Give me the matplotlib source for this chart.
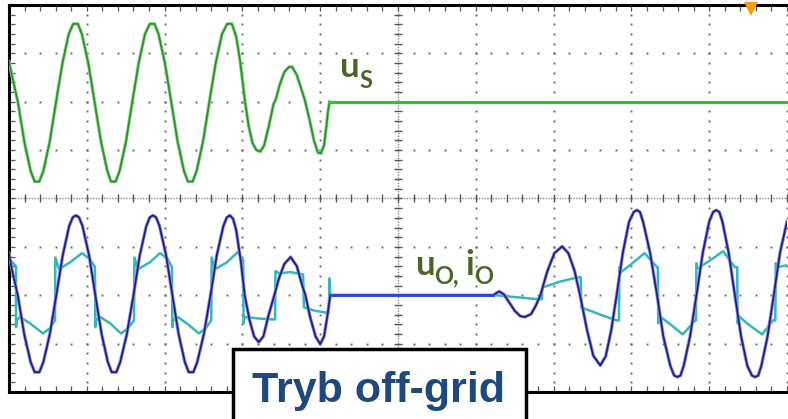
import numpy as np
import matplotlib
matplotlib.use("Agg")
import matplotlib.pyplot as plt
from matplotlib.patches import Rectangle

# ---------------- data (time in divisions, amplitude in divisions) ----------------
us_points = [
    (0.00, 0.83), (0.03, 0.60), (0.114, 0.00), (0.196, -0.82), (0.278, -1.43), (0.33, -1.65),
    (0.39, -1.65), (0.442, -1.43), (0.524, -0.82), (0.605, 0.00), (0.687, 0.80), (0.768, 1.40),
    (0.825, 1.61), (0.885, 1.61), (0.937, 1.40), (1.019, 0.80), (1.10, 0.00), (1.182, -0.82),
    (1.264, -1.43), (1.31, -1.65), (1.37, -1.65), (1.422, -1.43), (1.504, -0.82), (1.585, 0.00),
    (1.667, 0.80), (1.748, 1.40), (1.81, 1.61), (1.87, 1.61), (1.922, 1.40), (2.004, 0.80),
    (2.085, 0.00), (2.167, -0.82), (2.249, -1.43), (2.30, -1.65), (2.36, -1.65), (2.412, -1.43),
    (2.494, -0.82), (2.575, 0.00), (2.657, 0.80), (2.738, 1.40), (2.805, 1.61), (2.865, 1.61),
    (2.92, 1.35), (2.97, 0.85), (3.03, 0.05), (3.08, -0.50), (3.13, -0.85), (3.18, -1.00),
    (3.23, -1.03), (3.28, -0.90), (3.34, -0.50), (3.40, -0.05), (3.43, 0.05), (3.48, 0.35),
    (3.54, 0.62), (3.60, 0.72), (3.64, 0.72), (3.70, 0.55), (3.76, 0.25), (3.80, 0.05),
    (3.86, -0.35), (3.92, -0.80), (3.97, -1.05), (4.01, -1.07), (4.05, -0.90), (4.08, -0.50),
    (4.10, -0.20), (4.12, 0.00), (10.0, 0.00),
]

uo_points = [
    (0.00, 0.87), (0.035, 0.55), (0.113, 0.00), (0.195, -0.80), (0.278, -1.38), (0.33, -1.59),
    (0.39, -1.59), (0.442, -1.38), (0.525, -0.80), (0.608, 0.00), (0.69, 0.82), (0.773, 1.43),
    (0.82, 1.61), (0.86, 1.65), (0.90, 1.61), (0.945, 1.43), (1.03, 0.82), (1.11, 0.00),
    (1.19, -0.80), (1.27, -1.38), (1.32, -1.59), (1.38, -1.59), (1.43, -1.38), (1.515, -0.80),
    (1.60, 0.00), (1.68, 0.82), (1.765, 1.43), (1.81, 1.61), (1.85, 1.65), (1.89, 1.61),
    (1.935, 1.43), (2.02, 0.82), (2.10, 0.00), (2.18, -0.80), (2.26, -1.38), (2.31, -1.59),
    (2.37, -1.59), (2.42, -1.38), (2.505, -0.80), (2.59, 0.00), (2.67, 0.82), (2.755, 1.43),
    (2.80, 1.61), (2.84, 1.65), (2.88, 1.58), (2.92, 1.35), (2.98, 0.70), (3.03, 0.00),
    (3.09, -0.50), (3.15, -0.85), (3.21, -0.97), (3.27, -0.85), (3.33, -0.45), (3.41, 0.00),
    (3.47, 0.35), (3.54, 0.65), (3.62, 0.79), (3.70, 0.60), (3.76, 0.25), (3.81, 0.00),
    (3.87, -0.45), (3.94, -0.85), (4.00, -1.01), (4.05, -0.85), (4.09, -0.45), (4.12, -0.10),
    (4.13, 0.00), (6.22, 0.00), (6.30, 0.08), (6.36, 0.02), (6.43, -0.15), (6.50, -0.32),
    (6.57, -0.43), (6.63, -0.45), (6.71, -0.39), (6.77, -0.22), (6.83, 0.00), (6.92, 0.50),
    (7.01, 0.87), (7.11, 1.01), (7.19, 0.87), (7.27, 0.50), (7.34, 0.00), (7.43, -0.72),
    (7.51, -1.25), (7.60, -1.45), (7.67, -1.26), (7.74, -0.73), (7.81, 0.00), (7.89, 0.88),
    (7.97, 1.52), (8.03, 1.72), (8.07, 1.76), (8.11, 1.72), (8.15, 1.52), (8.24, 0.88),
    (8.33, 0.00), (8.41, -0.85), (8.50, -1.46), (8.55, -1.66), (8.59, -1.69), (8.63, -1.66),
    (8.672, -1.46), (8.754, -0.85), (8.836, 0.00), (8.918, 0.88), (9.00, 1.52), (9.05, 1.72),
    (9.09, 1.76), (9.13, 1.72), (9.17, 1.52), (9.25, 0.88), (9.33, 0.00), (9.41, -0.85),
    (9.49, -1.46), (9.55, -1.66), (9.59, -1.69), (9.63, -1.66), (9.67, -1.46), (9.75, -0.85),
    (9.83, 0.00), (9.91, 0.88), (10.0, 1.52),
]

io_points = [
    (0.00, 0.76), (0.077, 0.62), (0.09, 0.60), (0.09, -0.66), (0.10, -0.52), (0.141, -0.45),
    (0.27, -0.58), (0.437, -0.79), (0.527, -0.68), (0.591, -0.52), (0.595, 0.78), (0.643, 0.54),
    (0.784, 0.68), (0.938, 0.87), (1.04, 0.75), (1.105, 0.58), (1.11, -0.66), (1.12, -0.52),
    (1.17, -0.45), (1.30, -0.58), (1.44, -0.79), (1.53, -0.68), (1.607, -0.52), (1.612, 0.78),
    (1.658, 0.54), (1.81, 0.68), (1.94, 0.87), (2.04, 0.75), (2.095, 0.58), (2.10, -0.66),
    (2.11, -0.52), (2.17, -0.45), (2.30, -0.60), (2.44, -0.79), (2.53, -0.68), (2.60, -0.52),
    (2.605, 0.78), (2.65, 0.54), (2.80, 0.68), (2.94, 0.89), (3.01, 0.72), (3.015, -0.58),
    (3.03, -0.45), (3.20, -0.48), (3.39, -0.50), (3.42, -0.50), (3.425, 0.50), (3.48, 0.45),
    (3.61, 0.48), (3.78, 0.43), (3.79, -0.25), (3.93, -0.32), (4.11, -0.37), (4.12, 0.35),
    (4.13, 0.00), (6.27, 0.00), (6.45, -0.03), (6.79, -0.08), (6.85, -0.08), (6.855, 0.16),
    (7.08, 0.28), (7.31, 0.37), (7.35, 0.37), (7.355, -0.25), (7.60, -0.40), (7.81, -0.52),
    (7.84, -0.52), (7.845, 0.58), (7.86, 0.47), (7.98, 0.62), (8.17, 0.87), (8.33, 0.58),
    (8.34, 0.58), (8.345, -0.58), (8.36, -0.43), (8.50, -0.60), (8.66, -0.81), (8.82, -0.52),
    (8.83, -0.52), (8.835, 0.66), (8.85, 0.55), (9.01, 0.72), (9.18, 0.91), (9.33, 0.58),
    (9.36, 0.58), (9.365, -0.58), (9.38, -0.43), (9.50, -0.60), (9.68, -0.81), (9.82, -0.52),
    (9.85, -0.52), (9.855, 0.66), (9.87, 0.58), (10.0, 0.62),
]

us_offset = 6.0       # channel 1 reference level (div)
lower_offset = 2.0    # channels 2/3 reference level (div)
us_cutoff = 4.12      # time where u_s drops to zero
uo_flat = (4.13, 6.22)  # interval where u_o rests at zero
trigger_pos = 9.54    # trigger marker position (div)
title_text = "Tryb off-grid"

# ---------------- figure ----------------
W, H = 788, 419
fig = plt.figure(figsize=(W / 100, H / 100), dpi=100)
fig.patch.set_facecolor("white")
ax = fig.add_axes([9 / W, 27 / H, 778 / W, 387 / H])
ax.set_xlim(0, 10)
ax.set_ylim(0, 8)

# graticule
sub_x = np.arange(0, 10.001, 0.2)
sub_y = np.arange(0, 8.001, 0.2)
gcol = "#6a6a6a"
for gx in range(1, 11):
    if gx == 5:
        continue
    ax.plot(np.full_like(sub_y, gx), sub_y, ls="none", marker="s", ms=1.4, mew=0, color=gcol, zorder=1)
for gy in range(1, 8):
    if gy == 4:
        continue
    ax.plot(sub_x, np.full_like(sub_x, gy), ls="none", marker="s", ms=1.4, mew=0, color=gcol, zorder=1)
ax.axhline(4, color="#8a8a8a", lw=1.0, ls=(0, (1, 1)), zorder=1)
ax.axvline(5, color="#8a8a8a", lw=1.0, ls=(0, (1, 1)), zorder=1)
ax.plot(sub_x, np.full_like(sub_x, 4), ls="none", marker="|", ms=6, mew=1.0, color="#555555", zorder=1)
ax.plot(np.full_like(sub_y, 5), sub_y, ls="none", marker="_", ms=6, mew=1.0, color="#555555", zorder=1)

ax.set_xticks(np.arange(0, 11, 1))
ax.set_yticks(np.arange(0, 9, 1))
ax.set_xticks(sub_x, minor=True)
ax.set_yticks(sub_y, minor=True)
ax.tick_params(which="both", direction="in", length=4, width=0.9, colors="#555555",
               top=True, right=False, labelbottom=False, labelleft=False)
for side in ["left", "top", "bottom"]:
    ax.spines[side].set_linewidth(2.2)
    ax.spines[side].set_color("black")
ax.spines["right"].set_visible(False)

# ---------------- traces ----------------
t_s, v_s = np.array(us_points).T
m = t_s <= us_cutoff
ax.plot(t_s[m], v_s[m] + us_offset, color="#86d286", lw=2.4, solid_joinstyle="round", zorder=3)
ax.plot(t_s[m], v_s[m] + us_offset, color="#2a902a", lw=1.2, solid_joinstyle="round", zorder=3)
mf = t_s >= us_cutoff
ax.plot(t_s[mf], v_s[mf] + us_offset, color="#22cc22", lw=2.2, zorder=3)

t_i, v_i = np.array(io_points).T
ax.plot(t_i, v_i + lower_offset, color="#35b8b8", lw=1.8, solid_joinstyle="round", zorder=3)

t_u, v_u = np.array(uo_points).T
ax.plot(t_u, v_u + lower_offset, color="#8c8ccc", lw=2.4, solid_joinstyle="round", zorder=4)
ax.plot(t_u, v_u + lower_offset, color="#1a1a8e", lw=1.2, solid_joinstyle="round", zorder=4)
mu = (t_u >= uo_flat[0]) & (t_u <= uo_flat[1])
ax.plot(t_u[mu], v_u[mu] + lower_offset, color="#2a45dd", lw=2.0, zorder=5)

# trigger marker
ax.plot([trigger_pos], [7.92], marker="v", ms=10, color="#ff9900", mew=0, clip_on=False, zorder=6)

# ---------------- labels ----------------
lab_col = "#4f6228"
lab_font = dict(family=["Lato", "DejaVu Sans"], fontweight="bold", color=lab_col, zorder=7)
ax.text(4.26, 6.51, "u", fontsize=25, ha="left", va="baseline", **lab_font)
ax.text(4.50, 6.28, "S", fontsize=17, ha="left", va="baseline", **lab_font)
ax.text(5.23, 2.42, "u", fontsize=25, ha="left", va="baseline", **lab_font)
ax.text(5.47, 2.24, "O,", fontsize=17, ha="left", va="baseline", **lab_font)
ax.text(5.87, 2.42, "i", fontsize=25, ha="left", va="baseline", **lab_font)
ax.text(5.98, 2.24, "O", fontsize=17, ha="left", va="baseline", **lab_font)

# title box
box = Rectangle((233 / W, -0.1), (526 - 233) / W, 0.1 + (419 - 349) / H, transform=fig.transFigure,
                facecolor="white", edgecolor="black", lw=2.5, zorder=10, clip_on=False)
fig.add_artist(box)
fig.text(378 / W, (419 - 402) / H, title_text, ha="center", va="baseline", fontsize=31,
         fontweight="bold", family=["Liberation Sans", "DejaVu Sans"], color="#1f497d", zorder=11)

fig.savefig("out.png", dpi=100, facecolor="white")
